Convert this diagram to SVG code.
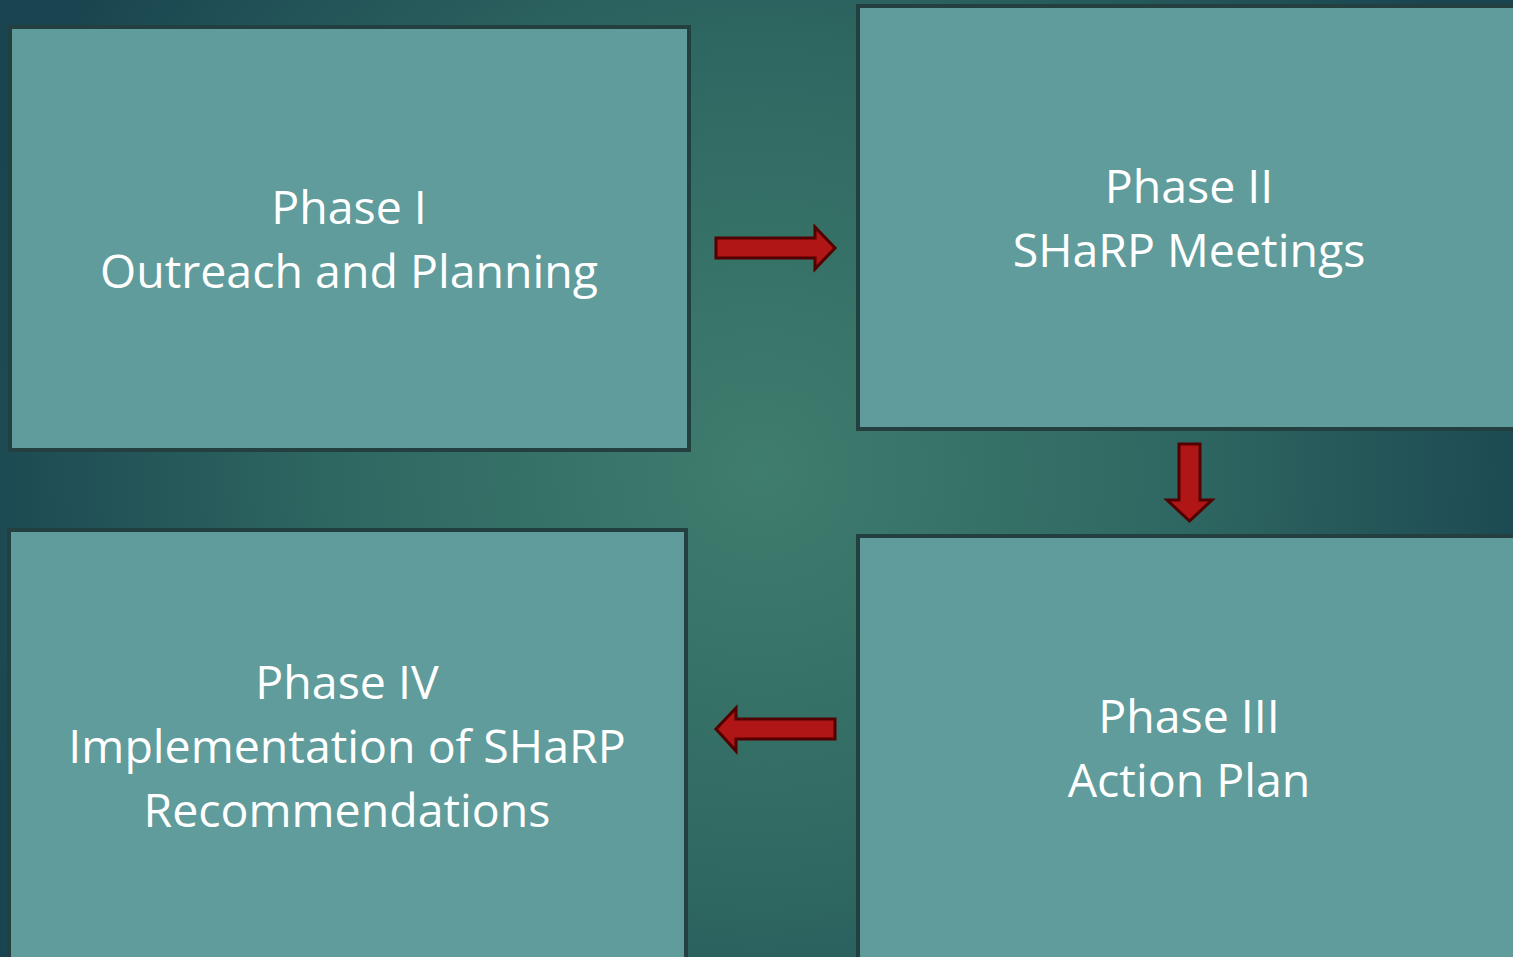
<svg xmlns="http://www.w3.org/2000/svg" width="1513" height="957" viewBox="0 0 1513 957">
<defs>
<radialGradient id="bg" cx="760" cy="470" r="820" gradientUnits="userSpaceOnUse">
<stop offset="0" stop-color="#3f7d6e"/>
<stop offset="0.5" stop-color="#2f6862"/>
<stop offset="1" stop-color="#1a4550"/>
</radialGradient>
<style>
.box{fill:#5f9c9b;stroke:#243f3f;stroke-width:4}
.lbl{font-family:"Open Sans","Liberation Sans",sans-serif;font-size:46.5px;fill:#ffffff;text-anchor:middle}
.arr{fill:#b01616;stroke:#520000;stroke-width:3;stroke-linejoin:miter}
</style>
</defs>
<rect x="0" y="0" width="1513" height="957" fill="url(#bg)"/>
<g id="phase1">
<rect class="box" x="10" y="27" width="679" height="423"/>
<text class="lbl" x="349" y="224">Phase I</text>
<text class="lbl" x="349" y="288">Outreach and Planning</text>
</g>
<g id="phase2">
<rect class="box" x="858" y="6" width="700" height="423"/>
<text class="lbl" x="1189" y="203">Phase II</text>
<text class="lbl" x="1189" y="267">SHaRP Meetings</text>
</g>
<g id="phase3">
<rect class="box" x="858" y="536" width="700" height="500"/>
<text class="lbl" x="1189" y="733">Phase III</text>
<text class="lbl" x="1189" y="797">Action Plan</text>
</g>
<g id="phase4">
<rect class="box" x="9" y="530" width="677" height="500"/>
<text class="lbl" x="347" y="699">Phase IV</text>
<text class="lbl" x="347" y="763">Implementation of SHaRP</text>
<text class="lbl" x="347" y="827">Recommendations</text>
</g>
<g id="connectors">
<polygon class="arr" points="716,238 815,238 815,227 835,248 815,269 815,258 716,258"/>
<polygon class="arr" points="1179,444 1200,444 1200,500 1212,500 1189.5,521 1167,500 1179,500"/>
<polygon class="arr" points="835,719 736,719 736,708 716,729 736,751 736,739 835,739"/>
</g>
</svg>
